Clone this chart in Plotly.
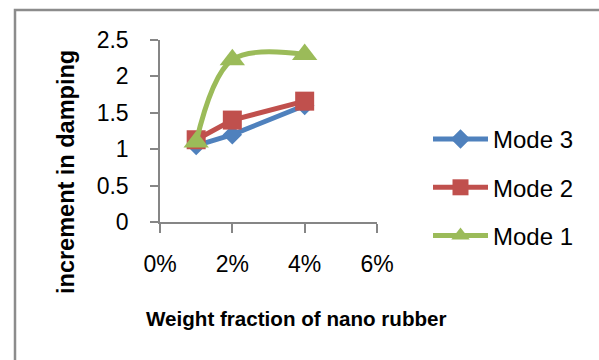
import plotly.graph_objects as go

weight_fraction = [0.01, 0.02, 0.04]
mode3 = [1.05, 1.2, 1.6]
mode2 = [1.13, 1.4, 1.66]
mode1 = [1.1, 2.23, 2.3]
series_names = ["Mode 3", "Mode 2", "Mode 1"]
x_tick_vals = [0, 0.02, 0.04, 0.06]
x_tick_text = ["0%", "2%", "4%", "6%"]
y_tick_vals = [0, 0.5, 1, 1.5, 2, 2.5]
y_tick_text = ["0", "0.5", "1", "1.5", "2", "2.5"]

W, H = 599, 360
L, R, T, B = 160, 377, 40, 222  # plot area pixel box
pw, ph = R - L, B - T

def px_x(x):
    return (x - L) / pw

def px_y(y):
    return (B - y) / ph

FONT = "Liberation Sans, Arial, sans-serif"
blue, red, green = "#4F81BD", "#C0504D", "#9BBB59"

fig = go.Figure()
fig.add_trace(go.Scatter(x=weight_fraction, y=mode3, name=series_names[0], mode="lines+markers",
                         line=dict(color=blue, width=5),
                         marker=dict(symbol="diamond", size=15, color=blue), legendgroup="a"))
fig.add_trace(go.Scatter(x=weight_fraction, y=mode2, name=series_names[1], mode="lines+markers",
                         line=dict(color=red, width=5),
                         marker=dict(symbol="square", size=19, color=red), legendgroup="b"))
fig.add_trace(go.Scatter(x=weight_fraction, y=mode1, name=series_names[2], mode="lines+markers",
                         line=dict(color=green, width=5, shape="spline", smoothing=1),
                         marker=dict(symbol="triangle-up", size=22, color=green), legendgroup="c"))

axis_color = "#868686"
fig.update_layout(
    width=W, height=H, autosize=False,
    margin=dict(l=L, r=W - R, t=T, b=H - B),
    paper_bgcolor="white", plot_bgcolor="white",
    font=dict(family=FONT, size=23, color="#000000"),
    showlegend=True,
    legend=dict(xref="container", yref="container", x=428 / W, y=1 - 117 / H,
                xanchor="left", yanchor="top", tracegroupgap=14, itemwidth=55,
                font=dict(family=FONT, size=24, color="#000000"), bgcolor="rgba(0,0,0,0)"),
    xaxis=dict(range=[0, 0.06], tickvals=x_tick_vals, ticktext=x_tick_text,
               showgrid=False, zeroline=False, showline=True, linecolor=axis_color, linewidth=1.5,
               ticks="outside", ticklen=9, tickcolor=axis_color, tickwidth=1.5,
               ticklabelstandoff=12, tickfont=dict(size=23)),
    yaxis=dict(range=[0, 2.5], tickvals=y_tick_vals, ticktext=y_tick_text,
               showgrid=False, zeroline=False, showline=True, linecolor=axis_color, linewidth=1.5,
               ticks="outside", ticklen=8, tickcolor=axis_color, tickwidth=1.5,
               ticklabelstandoff=17, tickfont=dict(size=23)),
    annotations=[
        dict(text="<b>increment in damping</b>", xref="paper", yref="paper",
             x=px_x(66), y=px_y(172), textangle=-90, showarrow=False,
             xanchor="center", yanchor="middle", font=dict(family=FONT, size=23.5)),
        dict(text="<b>Weight fraction of nano rubber</b>", xref="paper", yref="paper",
             x=px_x(296), y=px_y(318), showarrow=False,
             xanchor="center", yanchor="middle", font=dict(family=FONT, size=20.6)),
    ],
    shapes=[
        dict(type="rect", xref="paper", yref="paper",
             x0=px_x(15), x1=px_x(640), y0=px_y(400), y1=px_y(10),
             line=dict(color="#8c8c8c", width=2.5), fillcolor="rgba(0,0,0,0)", layer="below"),
    ],
)

fig.write_html("out.html")
